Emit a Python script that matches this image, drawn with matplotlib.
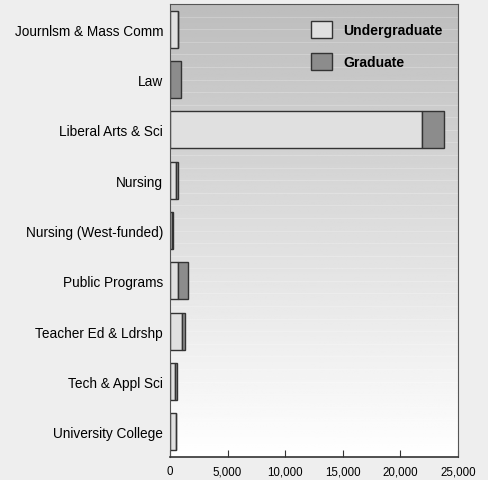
import numpy as np
import matplotlib.pyplot as plt
from matplotlib.patches import Patch

categories = ['Journlsm & Mass Comm', 'Law', 'Liberal Arts & Sci', 'Nursing',
              'Nursing (West-funded)', 'Public Programs', 'Teacher Ed & Ldrshp',
              'Tech & Appl Sci', 'University College']
undergrad = [700, 0, 21900, 500, 180, 720, 1070, 440, 560]
graduate = [0, 950, 1880, 200, 40, 820, 210, 200, 0]
xticks = [0, 5000, 10000, 15000, 20000, 25000]

plt.rcParams['font.family'] = ['Liberation Sans Narrow', 'Liberation Sans', 'DejaVu Sans']

fig = plt.figure(figsize=(4.88, 4.81), dpi=100, facecolor='#eeeeee')
ax = fig.add_axes([170 / 488, 23 / 481, 288 / 488, 453 / 481])

# vertical gradient background, dark at top
grad = np.linspace(0.74, 1.0, 256).reshape(-1, 1)
ax.imshow(grad, extent=[0, 1, 0, 1], origin='upper', transform=ax.transAxes,
          cmap='gray', vmin=0, vmax=1, aspect='auto', zorder=0)

y = np.arange(len(categories))
for yy in np.arange(-0.5, len(categories), 0.25):
    ax.axhline(yy, color='white', lw=0.6, alpha=0.25, zorder=1)

ax.barh(y, undergrad, height=0.74, color='#e0e0e0', edgecolor='#333333',
        linewidth=1, zorder=2)
ax.barh(y, graduate, left=undergrad, height=0.74, color='#8c8c8c',
        edgecolor='#333333', linewidth=1, zorder=2)

ax.set_xlim(0, 25000)
ax.set_ylim(len(categories) - 0.5, -0.5)
ax.set_yticks(y)
ax.set_yticklabels(categories, fontsize=9.8)
ax.set_xticks(xticks)
ax.set_xticklabels(['{:,}'.format(v) for v in xticks], fontsize=8.3)
ax.tick_params(axis='y', length=0, pad=5)
ax.tick_params(axis='x', direction='in', length=5, color='#333333', pad=6)
for s in ax.spines.values():
    s.set_color('#555555')
ax.spines['bottom'].set_color('#333333')
ax.spines['bottom'].set_linewidth(1.2)

handles = [Patch(facecolor='#e0e0e0', edgecolor='#333333', label='Undergraduate'),
           Patch(facecolor='#8c8c8c', edgecolor='#333333', label='Graduate')]
leg = ax.legend(handles=handles, loc='upper right', frameon=False,
                handlelength=1.55, handleheight=1.55, labelspacing=1.05,
                prop={'weight': 'bold', 'size': 10}, bbox_to_anchor=(0.99, 0.99))

fig.savefig('out.png', dpi=100, facecolor=fig.get_facecolor())
